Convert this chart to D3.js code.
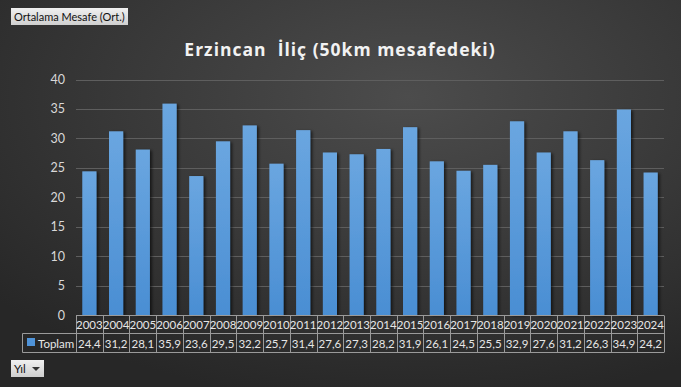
<!DOCTYPE html>
<html><head><meta charset="utf-8">
<script src="https://cdn.jsdelivr.net/npm/d3@7/dist/d3.min.js"></script>
<style>
html,body{margin:0;padding:0;background:#2a2a2a;}
svg{display:block;font-family:Lato,"DejaVu Sans",sans-serif;}
</style></head>
<body><div id="chart"></div>
<script>
const years = ["2003","2004","2005","2006","2007","2008","2009","2010","2011","2012","2013","2014","2015","2016","2017","2018","2019","2020","2021","2022","2023","2024"];
const values = [24.4,31.2,28.1,35.9,23.6,29.5,32.2,25.7,31.4,27.6,27.3,28.2,31.9,26.1,24.5,25.5,32.9,27.6,31.2,26.3,34.9,24.2];
const yTicks = [0,5,10,15,20,25,30,35,40];
const seriesName = "Toplam";
const title = "Erzincan  İliç (50km mesafedeki)";
const filterLabel = "Ortalama Mesafe (Ort.)";
const axisLabel = "Yıl";

(function(){
const W = 681, H = 387;
const F = "Lato,'DejaVu Sans',sans-serif";
const svg = d3.select("#chart").append("svg").attr("width", W).attr("height", H);
const defs = svg.append("defs");
const bg = defs.append("radialGradient").attr("id","bg").attr("cx","0.6").attr("cy","0.25").attr("r","0.8");
bg.append("stop").attr("offset","0").attr("stop-color","#4c4c4c");
bg.append("stop").attr("offset","1").attr("stop-color","#272727");
const bar = defs.append("linearGradient").attr("id","bar").attr("x1",0).attr("x2",0).attr("y1",0).attr("y2",1);
bar.append("stop").attr("offset","0").attr("stop-color","#6aa6e0");
bar.append("stop").attr("offset","1").attr("stop-color","#4a8ed3");
const btn = defs.append("linearGradient").attr("id","btn").attr("x1",0).attr("x2",0).attr("y1",0).attr("y2",1);
btn.append("stop").attr("offset","0").attr("stop-color","#f0f0f0");
btn.append("stop").attr("offset","1").attr("stop-color","#cfcfcf");
const sh = defs.append("filter").attr("id","sh").attr("x","-30%").attr("y","-10%").attr("width","170%").attr("height","130%");
sh.append("feDropShadow").attr("dx",2).attr("dy",1).attr("stdDeviation",1.5).attr("flood-color","#000").attr("flood-opacity",0.6);

svg.append("rect").attr("width",W).attr("height",H).attr("fill","url(#bg)");

const pl = 76, pr = 664, pt = 79.5, pb = 315;
const x = d3.scaleBand().domain(years).range([pl,pr]).paddingInner(0.47).paddingOuter(0.235);
const xc = d3.scaleBand().domain(years).range([pl,pr]);
const y = d3.scaleLinear().domain([0,40]).range([pb,pt]);

svg.append("g").selectAll("line").data(yTicks.filter(d=>d>0)).join("line")
  .attr("x1",pl).attr("x2",pr).attr("y1",d=>Math.round(y(d))+0.5).attr("y2",d=>Math.round(y(d))+0.5)
  .attr("stroke","#5e5e5e").attr("stroke-width",1);

const yAxis = d3.axisLeft(y).tickValues(yTicks).tickSize(0).tickPadding(11).tickFormat(d3.format("d"));
const ga = svg.append("g").attr("transform",`translate(${pl},0)`).call(yAxis);
ga.select(".domain").remove();
ga.selectAll("text").attr("fill","#d9d9d9").attr("font-size",12.5).attr("font-family",F);

svg.append("g").selectAll("rect").data(values).join("rect")
  .attr("x",(d,i)=>x(years[i])).attr("width",x.bandwidth())
  .attr("y",d=>y(d)).attr("height",d=>pb-y(d))
  .attr("fill","url(#bar)").attr("filter","url(#sh)");

svg.append("text").attr("x",340).attr("y",56).attr("text-anchor","middle")
  .attr("fill","#f2f2f2").attr("font-size",17.5).attr("font-weight","bold").attr("letter-spacing","1px")
  .style("white-space","pre").attr("font-family","'Open Sans',sans-serif").text(title);

const r0 = 315.5, r1 = 333.5, r2 = 352.5, tleft = 22.5;
const tg = svg.append("g").attr("stroke","#9a9a9a").attr("stroke-width",1);
tg.append("line").attr("x1",pl).attr("x2",pr).attr("y1",r0).attr("y2",r0);
tg.append("line").attr("x1",tleft).attr("x2",pr).attr("y1",r1).attr("y2",r1);
tg.append("line").attr("x1",tleft).attr("x2",pr).attr("y1",r2).attr("y2",r2);
tg.append("line").attr("x1",tleft).attr("x2",tleft).attr("y1",r1).attr("y2",r2);
const edges = years.map(d=>xc(d)).concat([pr]);
tg.selectAll(".v").data(edges).join("line").attr("class","v")
  .attr("x1",d=>Math.round(d)+0.5).attr("x2",d=>Math.round(d)+0.5).attr("y1",r0).attr("y2",r2);

const txt = svg.append("g").attr("fill","#e6e6e6").attr("font-size",11.5).attr("font-family",F).attr("text-anchor","middle");
txt.selectAll(".yr").data(years).join("text").attr("class","yr")
  .attr("x",d=>xc(d)+xc.bandwidth()/2).attr("y",329).text(d=>d);
txt.selectAll(".val").data(values).join("text").attr("class","val")
  .attr("x",(d,i)=>xc(years[i])+xc.bandwidth()/2).attr("y",347.5).text(d=>d3.format(".1f")(d).replace(".",","));
svg.append("rect").attr("x",27).attr("y",338).attr("width",8).attr("height",8).attr("fill","#4f93d8");
svg.append("text").attr("x",38).attr("y",347.5).attr("fill","#e6e6e6").attr("font-size",11.5)
  .attr("font-family",F).text(seriesName);

svg.append("rect").attr("x",11).attr("y",8).attr("width",117).attr("height",17).attr("fill","url(#btn)");
svg.append("text").attr("x",14).attr("y",21).attr("fill","#111").attr("font-size",11)
  .attr("font-family",F).text(filterLabel);

svg.append("rect").attr("x",11).attr("y",360).attr("width",33).attr("height",17).attr("fill","url(#btn)");
svg.append("text").attr("x",14).attr("y",373).attr("fill","#111").attr("font-size",11.5)
  .attr("font-family",F).text(axisLabel);
svg.append("path").attr("d","M32,367 L40,367 L36,371 Z").attr("fill","#333");
})();
</script>
</body></html>
